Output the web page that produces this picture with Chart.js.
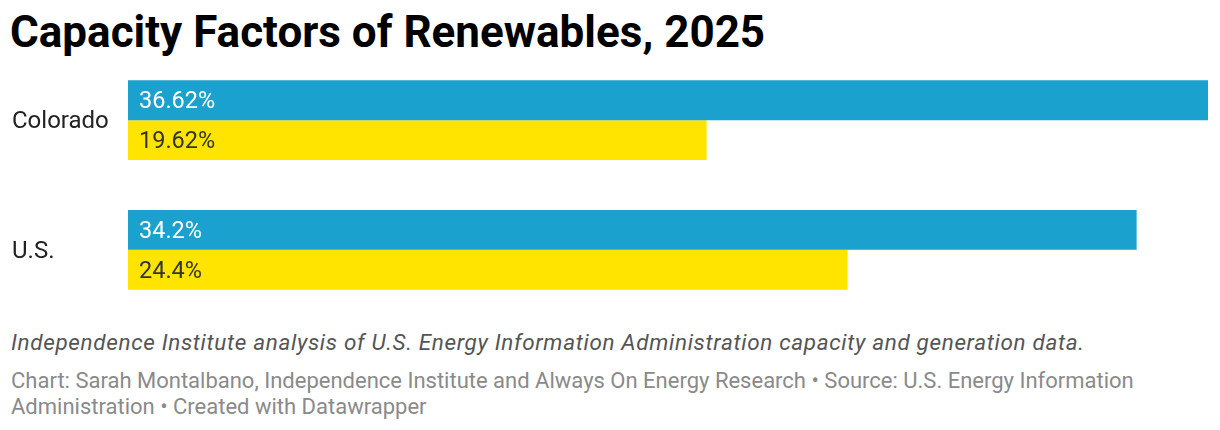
<!DOCTYPE html>
<html><head><meta charset="utf-8">
<script src="https://cdn.jsdelivr.net/npm/chart.js@4"></script>
<style>
html,body{margin:0;padding:0;background:#fff;width:1220px;height:430px;overflow:hidden;font-family:Roboto,sans-serif;}
#title{position:absolute;left:10px;top:6px;font-size:44px;font-weight:700;color:#000;white-space:nowrap;}
#wrap{position:absolute;left:0;top:41px;width:1220px;height:288px;}
#sub{position:absolute;left:11px;top:329px;font-size:22.5px;letter-spacing:0.65px;font-style:italic;color:#555;white-space:nowrap;}
#foot{position:absolute;left:11px;top:368px;width:1200px;font-size:22px;line-height:25.5px;color:#8a8a8a;white-space:nowrap;}
</style></head>
<body>
<div id="title">Capacity Factors of Renewables, 2025</div>
<div id="wrap"><canvas id="c"></canvas></div>
<div id="sub">Independence Institute analysis of U.S. Energy Information Administration capacity and generation data.</div>
<div id="foot">Chart: Sarah Montalbano, Independence Institute and Always On Energy Research • Source: U.S. Energy Information<br>Administration • Created with Datawrapper</div>
<script>
const categories = ["Colorado", "U.S."];
const windValues = [36.62, 34.2];
const solarValues = [19.62, 24.4];
const valueLabels = [["36.62%", "34.2%"], ["19.62%", "24.4%"]];

const labelPlugin = {
  id: 'barLabels',
  afterDatasetsDraw(chart) {
    const ctx = chart.ctx;
    ctx.save();
    ctx.font = '23.5px Roboto';
    ctx.textBaseline = 'middle';
    ctx.textAlign = 'left';
    chart.data.datasets.forEach((ds, di) => {
      const meta = chart.getDatasetMeta(di);
      meta.data.forEach((bar, i) => {
        ctx.fillStyle = di === 0 ? '#ffffff' : '#333333';
        ctx.fillText(valueLabels[di][i], bar.base + 11, bar.y + 2);
      });
    });
    ctx.restore();
  }
};

new Chart(document.getElementById('c'), {
  type: 'bar',
  data: {
    labels: categories,
    datasets: [
      { label: 'Wind', data: windValues, backgroundColor: '#1aa1cd', barPercentage: 1, categoryPercentage: 80/130 },
      { label: 'Solar', data: solarValues, backgroundColor: '#ffe400', barPercentage: 1, categoryPercentage: 80/130 }
    ]
  },
  options: {
    indexAxis: 'y',
    responsive: true,
    maintainAspectRatio: false,
    animation: false,
    layout: { padding: { left: 12, right: 12, top: 0, bottom: 0 } },
    plugins: { legend: { display: false }, tooltip: { enabled: false } },
    scales: {
      x: { display: false, min: 0, max: 36.62 },
      y: {
        grid: { display: false },
        border: { display: false },
        ticks: { crossAlign: 'far', color: '#222', font: { family: 'Roboto', size: 24 }, padding: 0, labelOffset: 2 },
        afterFit(scale) { scale.width = 116; }
      }
    }
  },
  plugins: [labelPlugin]
});
</script>
</body></html>
